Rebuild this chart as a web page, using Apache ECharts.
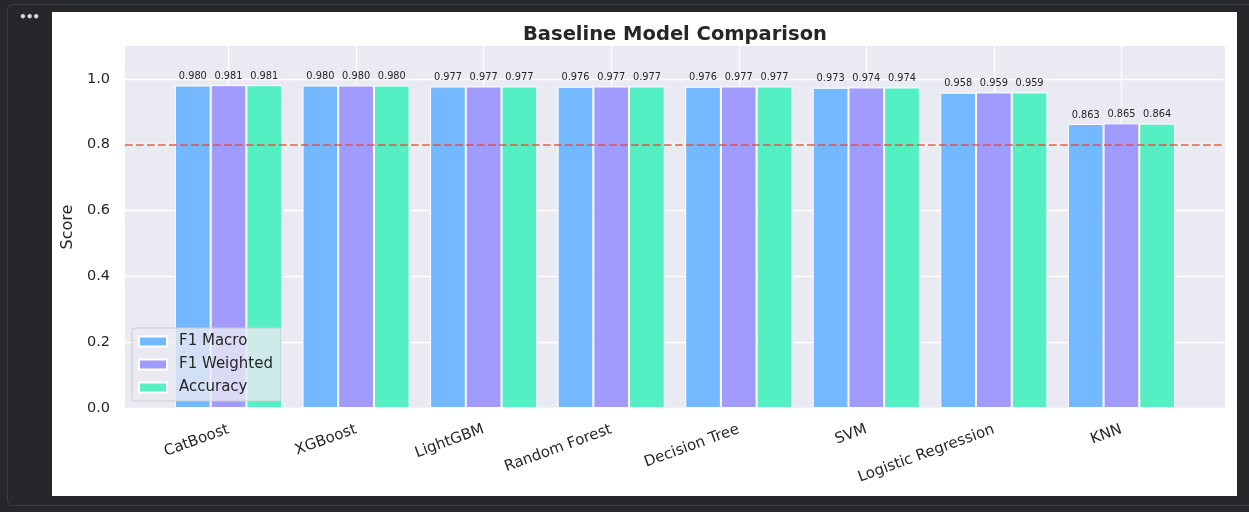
<!DOCTYPE html>
<html>
<head>
<meta charset="utf-8">
<script src="https://cdn.jsdelivr.net/npm/echarts@6/dist/echarts.min.js"></script>
<style>
  html, body { margin:0; padding:0; background:#26272a; width:1249px; height:512px; overflow:hidden; }
  #frame { position:absolute; left:7px; top:4px; width:1260px; height:500px; border:1px solid #3b3c3f; border-radius:6px; }
  #dots { position:absolute; left:19px; top:10px; color:#d8d8d8; font:bold 12px 'DejaVu Sans'; letter-spacing:-1px; }
  #chart { position:absolute; left:52px; top:12px; width:1185px; height:484px; background:#ffffff; }
</style>
</head>
<body>
<div id="frame"></div>
<div id="dots">•••</div>
<div id="chart"></div>
<script>
const categories = ['CatBoost','XGBoost','LightGBM','Random Forest','Decision Tree','SVM','Logistic Regression','KNN'];
const f1Macro    = [0.980, 0.980, 0.977, 0.976, 0.976, 0.973, 0.958, 0.863];
const f1Weighted = [0.981, 0.980, 0.977, 0.977, 0.977, 0.974, 0.959, 0.865];
const accuracy   = [0.981, 0.980, 0.977, 0.977, 0.977, 0.974, 0.959, 0.864];
const yTicks = [0, 0.2, 0.4, 0.6, 0.8, 1.0];
const threshold = 0.8;

const FONT = 'DejaVu Sans';
const TXT = '#262626';
const chart = echarts.init(document.getElementById('chart'), null, {renderer:'canvas'});
const idx = categories.map((c,i)=>i);

function barSeries(name, vals, color, withLine) {
  const s = {
    name, type:'bar',
    data: vals.map((v,i)=>[i,v]),
    barWidth:'28%', barGap:'0%',
    itemStyle:{ color, borderColor:'#ffffff', borderWidth:1 },
    label:{ show:true, position:'top', distance:4, fontFamily:FONT, fontSize:9.8, color:TXT,
            formatter:p=>p.value[1].toFixed(3) }
  };
  if (withLine) {
    s.markLine = {
      silent:true, symbol:'none', label:{show:false},
      lineStyle:{ color:'rgba(231,76,60,0.7)', type:[7.7,3.3], width:2 },
      data:[{ yAxis: threshold }]
    };
  }
  return s;
}

chart.setOption({
  animation:false,
  textStyle:{ fontFamily:FONT },
  title:{ text:'Baseline Model Comparison', left:466, top:8,
          textStyle:{ fontFamily:FONT, fontSize:19.5, fontWeight:'bold', color:TXT } },
  grid:{ left:72, right:12, top:34, bottom:88, show:true, backgroundColor:'#eaeaf2', borderWidth:0 },
  legend:{
    orient:'vertical', left:80, top:316,
    itemWidth:28, itemHeight:10, itemGap:8, icon:'rect',
    backgroundColor:'rgba(234,234,242,0.8)', borderColor:'#cccccc', borderWidth:1, borderRadius:3,
    padding:[6,8,6,6],
    textStyle:{ fontFamily:FONT, fontSize:15, color:TXT, padding:[0,0,0,7] }
  },
  xAxis:{
    type:'value', min:-0.812, max:7.812,
    axisLine:{show:false},
    axisTick:{show:false, customValues:idx},
    axisLabel:{ customValues:idx, formatter:v=>categories[Math.round(v)], rotate:20,
                fontFamily:FONT, fontSize:15, color:TXT, margin:21 },
    splitLine:{ show:true, lineStyle:{ color:'#ffffff', width:1.4 } }
  },
  yAxis:{
    type:'value', min:0, max:1.1,
    name:'Score', nameLocation:'middle', nameGap:47,
    nameTextStyle:{ fontFamily:FONT, fontSize:16, color:TXT },
    axisLine:{show:false},
    axisTick:{show:false, customValues:yTicks},
    axisLabel:{ customValues:yTicks, formatter:v=>v.toFixed(1), fontFamily:FONT, fontSize:14.5, color:TXT, margin:15 },
    splitLine:{ show:true, lineStyle:{ color:'#ffffff', width:1.4 } }
  },
  series:[
    barSeries('F1 Macro', f1Macro, '#74b9ff', false),
    barSeries('F1 Weighted', f1Weighted, '#a29bfe', false),
    barSeries('Accuracy', accuracy, '#55efc4', true)
  ]
});
</script>
</body>
</html>
